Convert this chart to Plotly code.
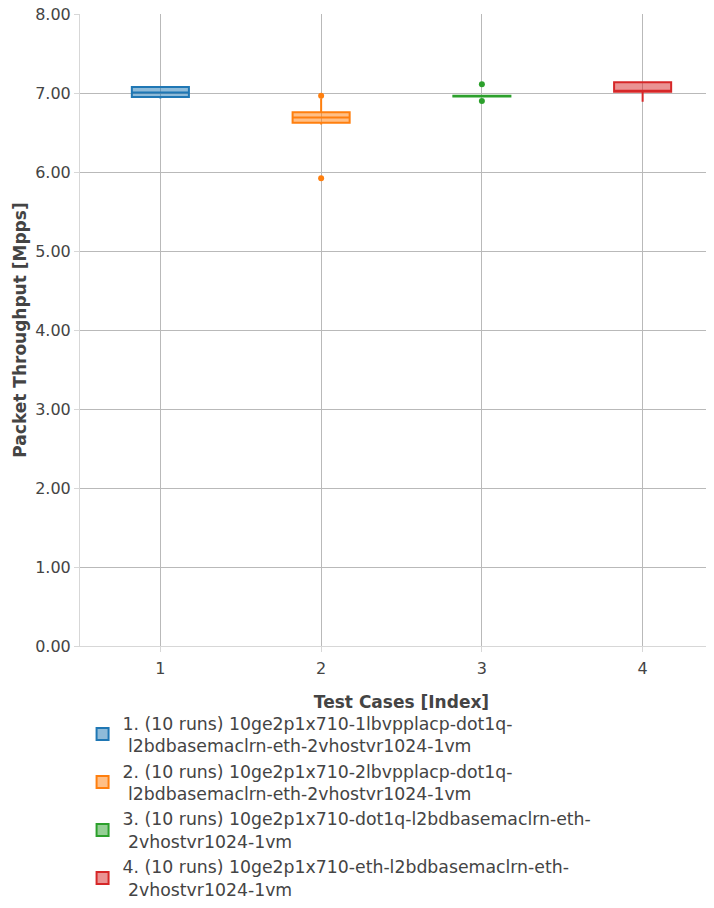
import plotly.graph_objects as go

# Data (Mpps, 10 runs per test case)
test_index = [1, 2, 3, 4]
names = [
    "1. (10 runs) 10ge2p1x710-1lbvpplacp-dot1q-<br>\u00a0l2bdbasemaclrn-eth-2vhostvr1024-1vm",
    "2. (10 runs) 10ge2p1x710-2lbvpplacp-dot1q-<br>\u00a0l2bdbasemaclrn-eth-2vhostvr1024-1vm",
    "3. (10 runs) 10ge2p1x710-dot1q-l2bdbasemaclrn-eth-<br>\u00a02vhostvr1024-1vm",
    "4. (10 runs) 10ge2p1x710-eth-l2bdbasemaclrn-eth-<br>\u00a02vhostvr1024-1vm",
]
runs_1 = [6.93, 6.94, 6.95, 6.97, 6.99, 7.02, 7.05, 7.075, 7.08, 7.09]
runs_2 = [5.92, 6.60, 6.625, 6.65, 6.68, 6.70, 6.73, 6.755, 6.93, 6.965]
runs_3 = [6.90, 6.955, 6.955, 6.96, 6.96, 6.96, 6.965, 6.965, 6.97, 7.11]
runs_4 = [6.89, 7.00, 7.015, 7.02, 7.02, 7.03, 7.10, 7.135, 7.14, 7.15]
runs = [runs_1, runs_2, runs_3, runs_4]
colors = ["#1f77b4", "#ff7f0e", "#2ca02c", "#d62728"]
y_ticks = [0, 1, 2, 3, 4, 5, 6, 7, 8]

FONT = "DejaVu Sans"
TXT = "#444444"
GRID = "rgb(185,185,185)"
LINE = "rgb(215,215,215)"

fig = go.Figure()
for idx, name, vals, col in zip(test_index, names, runs, colors):
    fig.add_trace(go.Box(
        x=[idx] * len(vals),
        y=vals,
        name=name,
        boxpoints="outliers",
        marker=dict(color=col, size=6),
        line=dict(color=col, width=2),
        width=0.355,
        whiskerwidth=0,
    ))

fig.update_layout(
    width=715,
    height=930,
    margin=dict(l=72, r=0, t=6, b=292),
    paper_bgcolor="white",
    plot_bgcolor="white",
    font=dict(family=FONT, size=17, color=TXT),
    showlegend=True,
    legend=dict(
        orientation="v",
        x=0.004, xanchor="left",
        y=-0.0934, yanchor="top",
        font=dict(family=FONT, size=17.3, color=TXT),
        bgcolor="rgba(0,0,0,0)",
    ),
    xaxis=dict(
        title=dict(text="<b>Test Cases [Index]</b>", font=dict(size=17, color=TXT),
                   standoff=18),
        range=[0.5, 4.5],
        automargin=False,
        tickmode="array",
        tickvals=test_index,
        ticktext=[str(i) for i in test_index],
        tickfont=dict(size=16),
        ticklabelstandoff=3,
        showgrid=True, gridcolor=GRID, gridwidth=1,
        showline=True, linecolor=LINE, linewidth=1,
        ticks="outside", tickcolor=LINE, ticklen=5,
        zeroline=False,
    ),
    yaxis=dict(
        title=dict(text="<b>Packet Throughput [Mpps]</b>", font=dict(size=17, color=TXT),
                   standoff=4),
        range=[0, 8],
        automargin=False,
        tickmode="array",
        tickvals=y_ticks,
        ticktext=["%.2f" % v for v in y_ticks],
        tickfont=dict(size=16),
        ticklabeloverflow="allow",
        showgrid=True, gridcolor=GRID, gridwidth=1,
        showline=True, linecolor=LINE, linewidth=1,
        ticks="outside", tickcolor=LINE, ticklen=5,
        zeroline=False,
    ),
)

fig.write_html("out.html")
